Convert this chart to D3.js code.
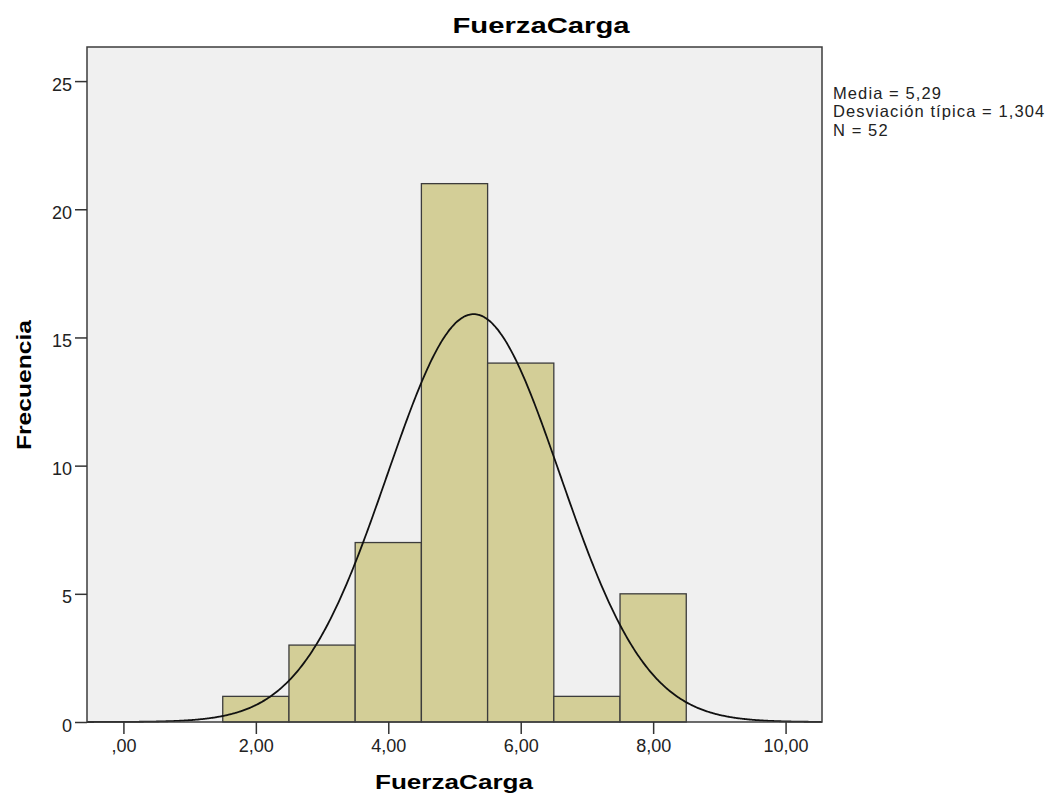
<!DOCTYPE html>
<html><head><meta charset="utf-8">
<script src="https://cdn.jsdelivr.net/npm/d3@7"></script>
<style>body{margin:0;background:#fff}svg{display:block}</style>
</head><body>
<svg id="c" width="1050" height="796"></svg>
<script>
const binStarts = [1.5, 2.5, 3.5, 4.5, 5.5, 6.5, 7.5];
const binWidth = 1;
const counts = [1, 3, 7, 21, 14, 1, 5];
const xTicks = [0, 2, 4, 6, 8, 10];
const yTicks = [0, 5, 10, 15, 20, 25];
const mean = 5.29, sd = 1.304, n = 52;
const statsLines = ["Media = 5,29", "Desviación típica = 1,304", "N = 52"];

const svg = d3.select("#c");
const L = 87, R = 822, T = 47, B = 722;
const x = d3.scaleLinear().domain([-0.55, 10.55]).range([L, R]);
const y = d3.scaleLinear().domain([0, 26.33]).range([B, T]);
const font = "'Liberation Sans', Arial, sans-serif";

svg.append("rect").attr("x", L).attr("y", T).attr("width", R - L).attr("height", B - T)
  .attr("fill", "#f0f0f0");

svg.append("g").selectAll("rect").data(counts).join("rect")
  .attr("x", (d, i) => x(binStarts[i]))
  .attr("y", d => y(d))
  .attr("width", (d, i) => x(binStarts[i] + binWidth) - x(binStarts[i]))
  .attr("height", d => y(0) - y(d))
  .attr("fill", "#d3ce97").attr("stroke", "#3c3c3c").attr("stroke-width", 1.3);

const pts = d3.range(-0.55, 10.56, 0.02).map(v => [v, n * binWidth * Math.exp(-0.5 * ((v - mean) / sd) ** 2) / (sd * Math.sqrt(2 * Math.PI))]);
svg.append("path").datum(pts)
  .attr("d", d3.line().x(d => x(d[0])).y(d => y(d[1])).curve(d3.curveBasis))
  .attr("fill", "none").attr("stroke", "#111").attr("stroke-width", 1.8);

svg.append("rect").attr("x", L).attr("y", T).attr("width", R - L).attr("height", B - T)
  .attr("fill", "none").attr("stroke", "#3c3c3c").attr("stroke-width", 1.5);

const xa = svg.append("g").attr("transform", `translate(0,${B})`)
  .call(d3.axisBottom(x).tickValues(xTicks).tickSize(12).tickPadding(5)
    .tickFormat(d => d === 0 ? ",00" : d3.format(".2f")(d).replace(".", ",")));
xa.select(".domain").remove();
xa.selectAll("line").attr("stroke", "#333").attr("stroke-width", 1.5);
xa.selectAll("text").attr("font-family", font).attr("font-size", 18).attr("fill", "#222");

const ya = svg.append("g").attr("transform", `translate(${L},0)`)
  .call(d3.axisLeft(y).tickValues(yTicks).tickSize(12).tickPadding(3));
ya.select(".domain").remove();
ya.selectAll("line").attr("stroke", "#333").attr("stroke-width", 1.5);
ya.selectAll("text").attr("font-family", font).attr("font-size", 18).attr("fill", "#222").attr("dy", "0.5em");

svg.append("text").attr("x", 541).attr("y", 33).attr("text-anchor", "middle")
  .attr("font-family", font).attr("font-weight", "bold").attr("font-size", 22)
  .attr("textLength", 177).attr("lengthAdjust", "spacingAndGlyphs").text("FuerzaCarga");
svg.append("text").attr("x", 454).attr("y", 789).attr("text-anchor", "middle")
  .attr("font-family", font).attr("font-weight", "bold").attr("font-size", 21)
  .attr("textLength", 158).attr("lengthAdjust", "spacingAndGlyphs").text("FuerzaCarga");
svg.append("text").attr("transform", "translate(31,385) rotate(-90)").attr("text-anchor", "middle")
  .attr("font-family", font).attr("font-weight", "bold").attr("font-size", 21)
  .attr("textLength", 130).attr("lengthAdjust", "spacingAndGlyphs").text("Frecuencia");

svg.append("g").selectAll("text").data(statsLines).join("text")
  .attr("x", 833).attr("y", (d, i) => 98.5 + i * 18.5)
  .attr("font-family", font).attr("font-size", 16.5).attr("letter-spacing", 1.1)
  .attr("fill", "#222").text(d => d);
</script>
</body></html>
